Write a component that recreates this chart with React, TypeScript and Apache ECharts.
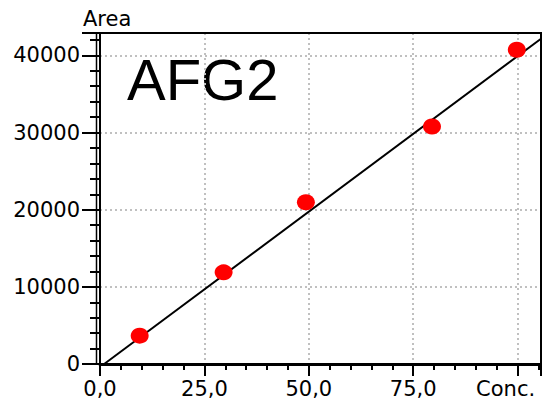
import React, { useEffect, useRef } from 'react';
import * as echarts from 'echarts';

const concentrations = [9.5, 29.6, 49.3, 79.5, 99.8];
const areas = [3670, 11880, 20960, 30780, 40730];
const fitX = [1.0, 105.6];
const fitY = [0, 42150];
const xTickLabels: Record<number, string> = { 0: '0,0', 25: '25,0', 50: '50,0', 75: '75,0', 100: 'Conc.' };
const yTickValues = [0, 10000, 20000, 30000, 40000];
const chartTitle = 'AFG2';
const yName = 'Area';

export default function App() {
  const ref = useRef<HTMLDivElement>(null);
  useEffect(() => {
    if (!ref.current) return;
    const chart = echarts.init(ref.current, null, { renderer: 'svg' });
    const font = 'DejaVu Sans';
    chart.setOption({
      animation: false,
      backgroundColor: '#fff',
      grid: { left: 100, right: 1, top: 33, bottom: 35, show: false, containLabel: false, outerBoundsMode: 'none' },
      xAxis: {
        type: 'value',
        min: 0,
        max: 105.6,
        interval: 25,
        axisLine: { show: true, lineStyle: { color: '#000', width: 3 } },
        axisTick: { show: true, length: 12, lineStyle: { color: '#000', width: 2 } },
        minorTick: { show: true, splitNumber: 5, length: 6, lineStyle: { color: '#000', width: 2 } },
        splitLine: { show: true, showMinLine: false, showMaxLine: false, lineStyle: { color: '#c0c0c0', type: [2, 3], width: 2 } },
        axisLabel: {
          margin: 15,
          fontFamily: font,
          fontSize: 21,
          lineHeight: 19,
          color: '#000',
          showMaxLabel: false,
          hideOverlap: false,
          formatter: (v: number) => {
            const key = Math.round(v * 10) / 10;
            if (key === 100) return '{end|' + xTickLabels[key] + '}';
            return xTickLabels[key] ?? '';
          },
          rich: {
            end: { fontFamily: font, fontSize: 21, lineHeight: 19, color: '#000', padding: [0, 24, 0, 0] },
          },
        },
      },
      yAxis: {
        type: 'value',
        min: 0,
        max: 42900,
        interval: 10000,
        axisLine: { show: true, lineStyle: { color: '#000', width: 2 } },
        axisTick: { show: true, length: 18, lineStyle: { color: '#000', width: 2 } },
        minorTick: { show: true, splitNumber: 5, length: 10, lineStyle: { color: '#000', width: 2 } },
        splitLine: { show: true, showMinLine: true, showMaxLine: false, lineStyle: { color: '#c0c0c0', type: [2, 3], width: 2 } },
        axisLabel: {
          margin: 20,
          fontFamily: font,
          fontSize: 21,
          color: '#000',
          showMaxLabel: false,
          formatter: (v: number) => (yTickValues.includes(v) ? String(v) : ''),
        },
      },
      graphic: [
        { type: 'line', shape: { x1: 96.5, y1: 32, x2: 96.5, y2: 364 }, style: { stroke: '#000', lineWidth: 1.5 }, z: 10 },
        { type: 'polyline', shape: { points: [[100, 33], [541, 33], [541, 364]] }, style: { stroke: '#000', lineWidth: 2, fill: null }, z: 10 },
        { type: 'text', left: 83, top: 8, style: { text: yName, font: `21px "${font}"`, fill: '#000' } },
        { type: 'text', left: 127, top: 50, style: { text: chartTitle, font: '58px "Liberation Sans"', fill: '#000' } },
      ],
      series: [
        {
          type: 'line',
          data: fitX.map((x, i) => [x, fitY[i]]),
          showSymbol: false,
          lineStyle: { color: '#000', width: 2 },
          z: 2,
        },
        {
          type: 'scatter',
          data: concentrations.map((x, i) => [x, areas[i]]),
          symbol: 'circle',
          symbolSize: [18, 16],
          itemStyle: { color: '#ff0000', opacity: 1 },
          z: 3,
        },
      ],
    });
    return () => chart.dispose();
  }, []);
  return <div ref={ref} style={{ width: 542, height: 399, position: 'absolute', left: 0, top: 0 }} />;
}
